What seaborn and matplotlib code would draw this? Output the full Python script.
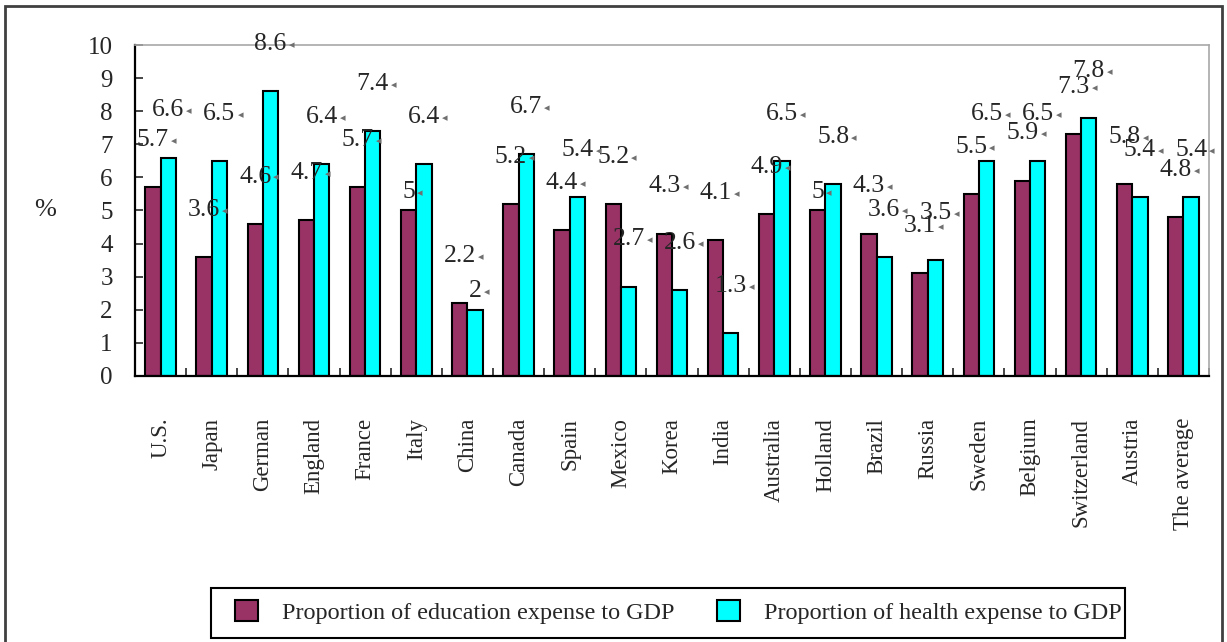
import numpy as np
import pandas as pd
import seaborn as sns
import matplotlib.pyplot as plt
from matplotlib.patches import Rectangle

# Data (percent of GDP)
countries = ['U.S.', 'Japan', 'German', 'England', 'France', 'Italy', 'China',
             'Canada', 'Spain', 'Mexico', 'Korea', 'India', 'Australia', 'Holland',
             'Brazil', 'Russia', 'Sweden', 'Belgium', 'Switzerland', 'Austria',
             'The average']
education = [5.7, 3.6, 4.6, 4.7, 5.7, 5, 2.2, 5.2, 4.4, 5.2, 4.3, 4.1, 4.9, 5,
             4.3, 3.1, 5.5, 5.9, 7.3, 5.8, 4.8]
health = [6.6, 6.5, 8.6, 6.4, 7.4, 6.4, 2, 6.7, 5.4, 2.7, 2.6, 1.3, 6.5, 5.8,
          3.6, 3.5, 6.5, 6.5, 7.8, 5.4, 5.4]
series_names = ['Proportion of education expense to GDP',
                'Proportion of health expense to GDP']
yticks = list(range(0, 11))

df = pd.DataFrame({
    'Country': countries * 2,
    'Value': education + health,
    'Series': [series_names[0]] * len(countries) + [series_names[1]] * len(countries),
})

sns.set_style('white')
plt.rcParams['font.family'] = ['Liberation Serif', 'DejaVu Sans']

fig = plt.figure(figsize=(12.27, 6.42), dpi=100)
ax = fig.add_axes([135 / 1227, 1 - 376 / 642, (1209 - 135) / 1227, (376 - 45) / 642])

sns.barplot(data=df, x='Country', y='Value', hue='Series',
            palette=['#993366', '#00FFFF'], width=0.6,
            edgecolor='black', linewidth=1.5, saturation=1, ax=ax)

ax.set_xlim(-0.5, len(countries) - 0.5)
ax.set_ylim(0, 10)
ax.set_yticks(yticks)
ax.set_xlabel('')
ax.set_ylabel('%', rotation=0, fontsize=19, ha='center', va='center')
ax.yaxis.set_label_coords(-0.084, 0.5)

# spines like the old Excel plot area
for side in ['left', 'bottom']:
    ax.spines[side].set_color('black')
    ax.spines[side].set_linewidth(1.6)
for side in ['top', 'right']:
    ax.spines[side].set_visible(True)
    ax.spines[side].set_color('#a8a8a8')
    ax.spines[side].set_linewidth(1.2)

ax.tick_params(axis='y', direction='in', length=6, width=1.2, labelsize=18, pad=16, left=True)
ax.set_xticks(np.arange(-0.5, len(countries), 1), minor=True)
ax.tick_params(axis='x', which='major', length=0, labelsize=16.5, pad=30, labelrotation=90)
ax.tick_params(axis='x', which='minor', direction='in', length=6, width=1.2, bottom=True)
for lab in ax.get_xticklabels():
    lab.set_va('top')

# value labels with the little grey marker after them
for cont in ax.containers:
    for bar in cont:
        h = bar.get_height()
        txt = f'{h:g}'
        off = 13.5 if float(h).is_integer() else 34.0
        t = ax.annotate(txt, (bar.get_x() + bar.get_width() / 2, h),
                        xytext=(0, off), textcoords='offset points',
                        ha='center', va='center', fontsize=18.5, annotation_clip=False)
        ax.annotate('\u25c2', xy=(1, 0.45), xycoords=t, xytext=(1.5, 0),
                    textcoords='offset points', ha='left', va='center',
                    fontsize=8, color='#707070', family='DejaVu Sans')

handles, labels = ax.get_legend_handles_labels()
leg = ax.legend(handles, labels, ncol=2, loc='center left',
                bbox_to_anchor=(235 / 1227, 1 - 612 / 642), bbox_transform=fig.transFigure,
                frameon=False, fontsize=17.4,
                handlelength=0.95, handleheight=0.95, handletextpad=1.0,
                columnspacing=1.75, borderpad=0, borderaxespad=0)
for p in leg.get_patches():
    p.set_edgecolor('black')
    p.set_linewidth(1.5)

# legend box drawn by hand, Excel style (text runs up to the right edge)
fig.patches.append(Rectangle((211 / 1227, 1 - 638 / 642), (1125 - 211) / 1227, 50 / 642,
                             transform=fig.transFigure, fill=False,
                             edgecolor='black', linewidth=1.5, zorder=5))

# outer border round the whole chart
fig.patches.append(Rectangle((5 / 1227, -0.02), (1222 - 5) / 1227, 1.02 - 6 / 642,
                             transform=fig.transFigure, fill=False,
                             edgecolor='#404040', linewidth=2))

fig.savefig('out.png', dpi=100)
